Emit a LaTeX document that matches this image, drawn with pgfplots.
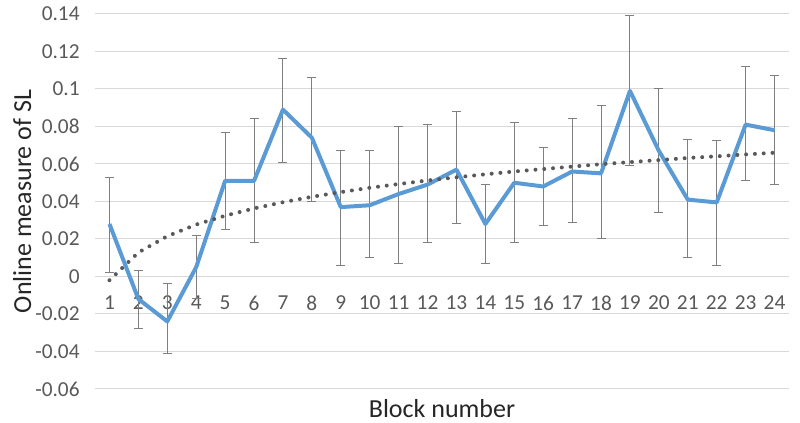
\documentclass[border=0pt]{standalone}
\usepackage{fontspec}
\setmainfont{Carlito}
\usepackage{pgfplots}
\pgfplotsset{compat=1.18}

\definecolor{xlblue}{HTML}{5B9BD5}
\definecolor{xlgrid}{HTML}{D9D9D9}
\definecolor{xltext}{HTML}{595959}
\definecolor{xlerr}{HTML}{7F7F7F}
\definecolor{xltrend}{HTML}{595959}

% block, mean, error up, error down
\pgfplotstableread{
x  y       ep     em
1  0.028   0.025  0.026
2  -0.012  0.015  0.016
3  -0.024  0.020  0.017
4  0.005   0.017  0.017
5  0.051   0.026  0.026
6  0.051   0.033  0.033
7  0.089   0.027  0.028
8  0.074   0.032  0.034
9  0.037   0.030  0.031
10 0.038   0.029  0.028
11 0.044   0.036  0.037
12 0.049   0.032  0.031
13 0.057   0.031  0.029
14 0.028   0.021  0.021
15 0.050   0.032  0.032
16 0.048   0.021  0.021
17 0.056   0.028  0.027
18 0.055   0.036  0.035
19 0.099   0.040  0.040
20 0.067   0.033  0.033
21 0.041   0.032  0.031
22 0.0395  0.033  0.0335
23 0.081   0.031  0.030
24 0.078   0.029  0.029
}\blocks

\pgfplotstableread{
x  y
1  -0.002
2  0.0128
3  0.0215
4  0.0277
5  0.0324
6  0.0363
7  0.0396
8  0.0425
9  0.0450
10 0.0473
11 0.0493
12 0.0512
13 0.0529
14 0.0545
15 0.0560
16 0.0573
17 0.0586
18 0.0599
19 0.0610
20 0.0621
21 0.0632
22 0.0641
23 0.0651
24 0.0660
}\trend

\begin{document}
\begin{tikzpicture}
\begin{axis}[
    scale only axis,
    width=520.5pt, height=281.25pt,
    xmin=0.5, xmax=24.5,
    ymin=-0.06, ymax=0.14,
    axis line style={draw=none},
    major tick length=0pt,
    ymajorgrids,
    grid style={xlgrid, line width=0.75pt},
    ytick={-0.06,-0.04,-0.02,0,0.02,0.04,0.06,0.08,0.1,0.12,0.14},
    yticklabels={-0.06,-0.04,-0.02,0,0.02,0.04,0.06,0.08,0.1,0.12,0.14},
    xtick={1,2,3,4,5,6,7,8,9,10,11,12,13,14,15,16,17,18,19,20,21,22,23,24},
    xticklabels={1,2,3,4,5,6,7,8,9,10,11,12,13,14,15,16,17,18,19,20,21,22,23,24},
    ticklabel style={font=\fontsize{16}{19}\selectfont, text=xltext},
    yticklabel style={anchor=east, xshift=-8pt},
    xticklabel style={anchor=center, yshift=64.5pt},
    xlabel={Block number},
    ylabel={Online measure of SL},
    label style={font=\fontsize{19.5}{23}\selectfont, text=black!85},
    xlabel style={at={(axis description cs:0.5,-0.052)}, anchor=center},
    ylabel style={at={(axis description cs:-0.105,0.5)}, anchor=center},
    clip=false,
]
\addplot [draw=none, mark=none,
    error bars/.cd, y dir=both, y explicit,
    error bar style={draw=xlerr, line width=0.75pt, solid},
    error mark options={draw=xlerr, line width=0.75pt, mark size=3.4pt, rotate=90}]
    table [x=x, y=y, y error plus=ep, y error minus=em] {\blocks};
\addplot [xlblue, line width=3pt, mark=none, line join=round]
    table [x=x, y=y] {\blocks};
\addplot [xltrend, line width=3pt, line cap=round, dash pattern=on 0pt off 6.6pt, mark=none]
    table [x=x, y=y] {\trend};
\end{axis}
\pgfresetboundingbox
\path (-71.25pt,-25.5pt) rectangle (528.75pt,291.75pt);
\end{tikzpicture}
\end{document}
